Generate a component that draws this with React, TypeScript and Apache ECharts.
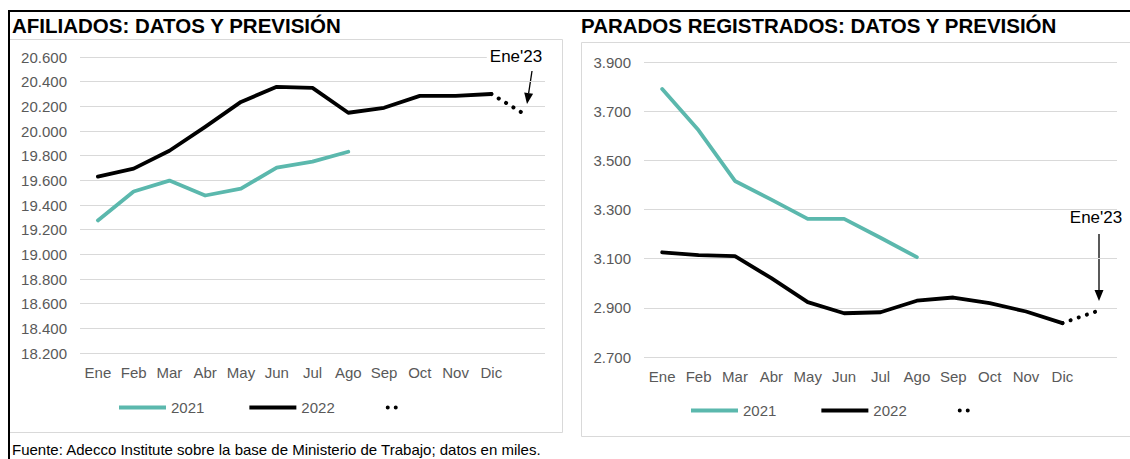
import React, { useEffect, useRef } from "react";
import * as echarts from "echarts";

// ---------- data ----------
const months = ["Ene", "Feb", "Mar", "Abr", "May", "Jun", "Jul", "Ago", "Sep", "Oct", "Nov", "Dic", ""];

const afiliados2021 = [19275, 19509, 19598, 19477, 19533, 19703, 19752, 19832];
const afiliados2022 = [19630, 19695, 19840, 20034, 20236, 20358, 20350, 20148, 20188, 20285, 20285, 20300];
const afiliadosPrevision = [null, null, null, null, null, null, null, null, null, null, null, 20300, 20123];

const parados2021 = [3790, 3622, 3416, 3340, 3262, 3262, 3185, 3106];
const parados2022 = [3126, 3114, 3110, 3021, 2923, 2878, 2882, 2929, 2942, 2919, 2885, 2838];
const paradosPrevision = [null, null, null, null, null, null, null, null, null, null, null, 2838, 2889];

const afiliadosAxis = { min: 18200, max: 20600, interval: 200 };
const paradosAxis = { min: 2700, max: 3900, interval: 200 };

const seriesNames = ["2021", "2022", " "];
const titles = ["AFILIADOS: DATOS Y PREVISIÓN", "PARADOS REGISTRADOS: DATOS Y PREVISIÓN"];
const annotation = "Ene'23";
const footer = "Fuente: Adecco Institute sobre la base de Ministerio de Trabajo; datos en miles.";

// ---------- styles ----------
const FONT = '"Liberation Sans", Arial, sans-serif';
const TEAL = "#5BB8AD";
const GRAY_TEXT = "#595959";
const GRID_LINE = "#D9D9D9";

const fmt = (v: number) => {
  const t = Math.floor(v / 1000);
  const r = Math.round(v % 1000);
  return t + "." + String(r).padStart(3, "0");
};

const lineIcon = "path://M0,0M47,14M0,5L47,5L47,9L0,9Z";
const dotsIcon =
  "path://M0,0M47,14M6,7a2,2,0,1,0,4,0a2,2,0,1,0,-4,0ZM14,7a2,2,0,1,0,4,0a2,2,0,1,0,-4,0Z";

function arrow(x1: number, y1: number, x2: number, y2: number) {
  const dx = x2 - x1;
  const dy = y2 - y1;
  const len = Math.sqrt(dx * dx + dy * dy);
  const ux = dx / len;
  const uy = dy / len;
  const hl = 11;
  const hw = 4.5;
  const bx = x2 - ux * hl;
  const by = y2 - uy * hl;
  return [
    {
      type: "line",
      shape: { x1, y1, x2: bx, y2: by },
      style: { stroke: "#000", lineWidth: 1.3 },
    },
    {
      type: "polygon",
      shape: {
        points: [
          [x2, y2],
          [bx - uy * hw, by + ux * hw],
          [bx + uy * hw, by - ux * hw],
        ],
      },
      style: { fill: "#000" },
    },
  ];
}

export default function App() {
  const ref = useRef<HTMLDivElement>(null);

  useEffect(() => {
    if (!ref.current) return;
    const chart = echarts.init(ref.current, null, { renderer: "svg" });

    const xAxisBase = {
      type: "category",
      data: months,
      boundaryGap: true,
      axisLine: { show: false },
      axisTick: { show: false },
      axisLabel: { interval: 0, color: GRAY_TEXT, fontSize: 15, fontFamily: FONT, margin: 12 },
      splitLine: { show: false },
    };
    const yAxisBase = {
      type: "value",
      axisLine: { show: false },
      axisTick: { show: false },
      axisLabel: { color: GRAY_TEXT, fontSize: 15, fontFamily: FONT, margin: 13, formatter: fmt },
      splitLine: { show: true, lineStyle: { color: GRID_LINE, width: 1 } },
    };

    const lineSeries = (name: string, data: any[], idx: number, color: string, width: number) => ({
      name,
      type: "line",
      xAxisIndex: idx,
      yAxisIndex: idx,
      data,
      showSymbol: false,
      symbol: "none",
      color,
      lineStyle: { color, width, cap: "round", join: "round" },
      silent: true,
    });
    const dotSeries = (data: any[], idx: number) => ({
      name: seriesNames[2],
      type: "line",
      xAxisIndex: idx,
      yAxisIndex: idx,
      data,
      showSymbol: false,
      symbol: "none",
      color: "#000",
      lineStyle: { color: "#000", width: 4, type: [0.1, 8.5], cap: "round" },
      silent: true,
    });

    const legendBase = {
      orient: "horizontal",
      itemWidth: 47,
      itemHeight: 14,
      itemGap: 45,
      selectedMode: false,
      textStyle: { color: GRAY_TEXT, fontSize: 15, fontFamily: FONT },
      data: [
        { name: seriesNames[0], icon: lineIcon },
        { name: seriesNames[1], icon: lineIcon },
        { name: seriesNames[2], icon: dotsIcon },
      ],
    };

    chart.setOption({
      animation: false,
      backgroundColor: "#fff",
      grid: [
        { left: 80, top: 57, width: 465, height: 296 },
        { left: 644, top: 62, width: 473, height: 295 },
      ],
      xAxis: [
        { ...xAxisBase, gridIndex: 0 },
        { ...xAxisBase, gridIndex: 1 },
      ],
      yAxis: [
        { ...yAxisBase, gridIndex: 0, ...afiliadosAxis },
        { ...yAxisBase, gridIndex: 1, ...paradosAxis },
      ],
      legend: [
        { ...legendBase, left: 114, top: 395 },
        { ...legendBase, left: 686, top: 398 },
      ],
      series: [
        lineSeries(seriesNames[0], afiliados2021, 0, TEAL, 3.8),
        lineSeries(seriesNames[1], afiliados2022, 0, "#000", 3.8),
        dotSeries(afiliadosPrevision, 0),
        lineSeries(seriesNames[0], parados2021, 1, TEAL, 3.8),
        lineSeries(seriesNames[1], parados2022, 1, "#000", 3.8),
        dotSeries(paradosPrevision, 1),
      ],
      graphic: [
        // frame lines
        { type: "line", shape: { x1: 8, y1: 11, x2: 1130, y2: 11 }, style: { stroke: "#000", lineWidth: 2 } },
        { type: "line", shape: { x1: 9, y1: 10, x2: 9, y2: 459 }, style: { stroke: "#000", lineWidth: 2 } },
        { type: "polyline", shape: { points: [[10, 39.5], [562.5, 39.5], [562.5, 432.5], [10, 432.5]] }, style: { stroke: GRID_LINE, lineWidth: 1, fill: null } },
        { type: "rect", shape: { x: 581.5, y: 42.5, width: 600, height: 394 }, style: { stroke: GRID_LINE, lineWidth: 1, fill: null } },
        // titles
        { type: "text", x: 12, y: 25.5, style: { text: titles[0], fontSize: 20.5, fontWeight: "bold", fontFamily: FONT, fill: "#000", verticalAlign: "middle" } },
        { type: "text", x: 581, y: 25.5, style: { text: titles[1], fontSize: 20.5, fontWeight: "bold", fontFamily: FONT, fill: "#000", verticalAlign: "middle" } },
        // annotations
        { type: "text", x: 516, y: 56, z: 10, style: { text: annotation, fontSize: 17, fontFamily: FONT, fill: "#000", align: "center", verticalAlign: "middle", backgroundColor: "#fff", padding: [1, 3] } },
        ...arrow(532, 71, 527, 104),
        { type: "text", x: 1096, y: 217, style: { text: annotation, fontSize: 17, fontFamily: FONT, fill: "#000", align: "center", verticalAlign: "middle" } },
        ...arrow(1099, 234, 1099, 301),
        // footer
        { type: "text", x: 12, y: 449.5, style: { text: footer, fontSize: 15, fontFamily: FONT, fill: "#000", verticalAlign: "middle" } },
      ],
    });

    return () => chart.dispose();
  }, []);

  return (
    <div
      ref={ref}
      style={{ position: "absolute", left: 0, top: 0, width: 1130, height: 459, background: "#fff" }}
    />
  );
}
